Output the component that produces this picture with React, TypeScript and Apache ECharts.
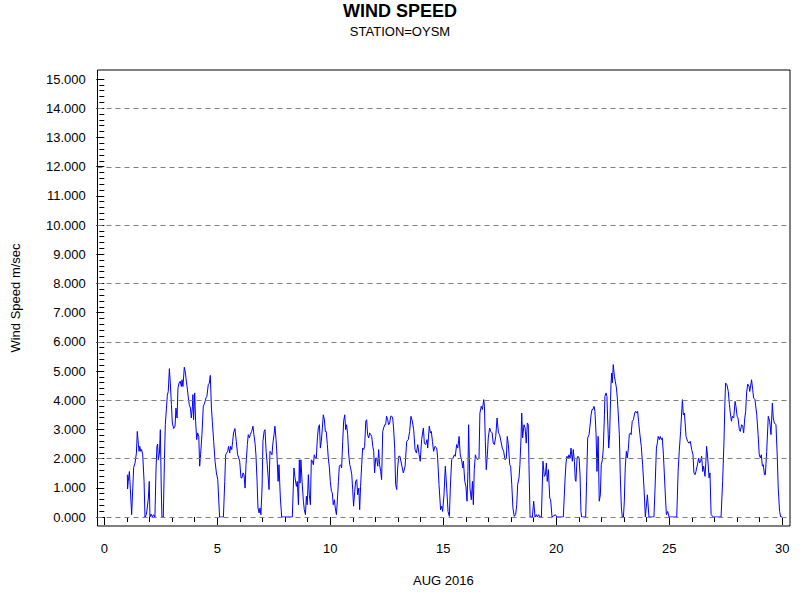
import React, { useEffect, useRef } from "react";
import * as echarts from "echarts";

// [day of August 2016, wind speed m/sec]
const aug01to04: [number, number][] = [
  [1.02,1.45],[1.03,0.96],[1.06,1.22],[1.11,1.56],[1.15,0.99],[1.21,0.08],[1.26,0.99],[1.30,1.70],[1.36,1.85],[1.42,2.19],[1.46,2.93],[1.51,2.48],[1.54,2.25],[1.57,2.42],[1.61,2.25],[1.65,2.31],[1.70,2.13],[1.76,1.22],[1.80,0],[1.86,0.08],[1.90,0.31],[1.95,0.65],[1.99,1.22],[2.02,0],[2.07,0.10],[2.13,0],[2.18,0.08],[2.24,0],[2.29,1.68],[2.33,2.42],[2.36,2.50],[2.39,1.96],[2.44,2.19],[2.48,2.99],[2.52,0.99],[2.55,0],[2.61,0],[2.66,1.91],[2.70,3.16],[2.75,3.73],[2.79,4.17],[2.83,4.30],[2.88,5.08],[2.92,4.59],[2.97,3.85],[3.01,3.22],[3.07,3.03],[3.13,3.11],[3.17,3.73],[3.22,3.39],[3.26,4.42],[3.31,4.59],[3.36,4.65],[3.41,4.47],[3.44,4.70],[3.48,4.47],[3.54,5.13],[3.59,4.93],[3.63,4.65],[3.67,4.42],[3.72,4.08],[3.76,3.85],[3.81,3.73],[3.85,3.39],[3.90,3.79],[3.92,4.19],[3.95,3.33],[4.00,4.25],[4.04,3.28],[4.09,2.65],[4.13,2.88],[4.18,2.76],[4.22,1.74],
];
const aug04to08: [number, number][] = [
  [4.26,2.13],[4.32,2.82],[4.38,3.79],[4.44,3.90],[4.50,4.08],[4.54,4.13],[4.60,4.53],[4.65,4.59],[4.69,4.85],[4.74,3.73],[4.78,3.28],[4.84,2.59],[4.90,1.91],[4.96,1.51],[5.02,1.28],[5.06,0.65],[5.10,0],[5.27,0],[5.33,1.22],[5.37,2.13],[5.41,2.19],[5.46,2.25],[5.50,2.42],[5.55,2.19],[5.59,2.42],[5.64,2.31],[5.68,2.59],[5.72,2.88],[5.78,3.03],[5.84,2.59],[5.90,2.13],[5.95,2.02],[5.99,1.91],[6.05,1.34],[6.09,1.34],[6.14,1.51],[6.18,1.45],[6.23,0.99],[6.27,1.79],[6.33,2.48],[6.37,2.82],[6.42,2.71],[6.46,2.82],[6.52,2.93],[6.58,3.11],[6.62,2.82],[6.67,2.53],[6.71,2.13],[6.76,1.22],[6.80,0.31],[6.85,0.14],[6.89,0.31],[6.93,0.08],[6.98,0.99],[7.02,2.59],[7.07,2.93],[7.11,2.99],[7.16,2.25],[7.21,1.79],[7.29,0.94],[7.33,2.25],[7.38,2.19],[7.42,2.13],[7.46,2.53],[7.51,2.82],[7.55,3.11],[7.60,2.65],[7.64,2.13],[7.69,1.22],[7.73,1.79],[7.79,0.65],[7.85,0],[8.32,0],[8.39,1.68],[8.44,1.34],[8.50,1.05],[8.54,1.22],[8.59,0.42],[8.63,1.96],
];
const aug08to13: [number, number][] = [
  [8.66,1.16],[8.70,1.96],[8.75,1.22],[8.81,0.54],[8.85,0.25],[8.90,0.08],[8.94,0.71],[8.98,0.42],[9.03,1.45],[9.07,0.76],[9.12,0.42],[9.16,1.96],[9.21,1.91],[9.25,1.79],[9.29,2.13],[9.34,2.02],[9.38,2.02],[9.43,2.71],[9.47,3.05],[9.52,3.16],[9.56,2.36],[9.60,2.59],[9.65,3.05],[9.69,3.50],[9.74,3.33],[9.78,2.93],[9.82,2.93],[9.87,2.48],[9.91,2.02],[9.96,1.68],[10.00,1.22],[10.05,0.88],[10.09,0.82],[10.13,0.42],[10.18,0.59],[10.22,0.31],[10.27,0.08],[10.31,0.54],[10.36,1.22],[10.40,1.74],[10.46,1.79],[10.50,1.68],[10.55,2.59],[10.59,3.28],[10.64,3.50],[10.68,2.99],[10.72,3.16],[10.77,2.82],[10.81,2.19],[10.86,1.79],[10.90,1.68],[10.95,1.45],[10.99,0.94],[11.03,0.37],[11.08,0.88],[11.12,1.22],[11.17,1.28],[11.21,0.76],[11.26,0.99],[11.30,0.25],[11.34,1.05],[11.39,1.79],[11.43,2.36],[11.48,2.31],[11.52,2.42],[11.57,3.28],[11.61,3.33],[11.65,2.82],[11.70,2.71],[11.74,2.88],[11.79,2.82],[11.83,2.76],[11.88,2.42],[11.92,2.25],[11.96,1.51],[12.01,2.02],[12.05,2.02],[12.10,1.74],[12.14,2.31],[12.18,1.79],[12.23,1.56],[12.27,1.28],[12.32,2.93],[12.36,3.05],[12.41,3.16],[12.45,3.16],[12.49,3.45],[12.54,3.33],[12.58,3.16],[12.63,3.22],[12.67,3.45],[12.72,3.45],[12.76,3.39],[12.80,3.05],[12.85,2.36],[12.89,1.11],[12.94,0.94],[12.98,1.68],[13.03,2.08],
];
const aug13to17: [number, number][] = [
  [13.08,2.08],[13.23,1.51],[13.31,1.74],[13.38,2.59],[13.45,2.65],[13.51,2.93],[13.57,3.45],[13.63,3.28],[13.69,2.99],[13.75,2.31],[13.81,2.19],[13.87,2.48],[13.93,2.13],[13.98,1.91],[14.04,2.65],[14.12,3.05],[14.16,2.53],[14.22,2.48],[14.28,2.65],[14.31,2.36],[14.38,3.11],[14.43,2.88],[14.47,2.93],[14.52,2.59],[14.57,2.25],[14.63,2.42],[14.71,2.36],[14.75,2.02],[14.81,1.11],[14.88,0.25],[14.93,0.37],[14.97,0.19],[15.03,0.76],[15.09,1.74],[15.15,0.99],[15.21,0.19],[15.27,0.02],[15.31,0.99],[15.37,1.96],[15.43,2.02],[15.49,2.13],[15.53,2.08],[15.59,2.48],[15.64,2.36],[15.70,2.76],[15.75,2.13],[15.81,1.96],[15.86,1.68],[15.89,1.91],[15.95,1.22],[16.00,1.05],[16.05,0.54],[16.09,1.56],[16.12,3.16],[16.18,0.99],[16.24,0.59],[16.29,1.22],[16.33,0.42],[16.37,1.62],[16.42,2.13],[16.46,2.02],[16.52,1.96],[16.58,2.02],[16.62,3.56],[16.68,3.79],[16.73,3.68],[16.79,4.02],[16.82,3.79],[16.86,2.59],[16.90,1.62],[16.95,2.13],[16.99,2.71],[17.05,3.05],[17.10,2.93],[17.16,2.88],[17.21,2.53],[17.26,2.48],[17.32,2.76],[17.38,3.39],[17.44,2.88],[17.49,2.82],
];
const aug17to21: [number, number][] = [
  [17.61,2.36],[17.67,2.25],[17.73,1.96],[17.79,2.02],[17.83,2.76],[17.88,2.48],[17.94,1.79],[17.98,1.74],[18.03,1.11],[18.08,0.31],[18.14,0.02],[18.20,0.08],[18.25,0.42],[18.29,1.11],[18.35,1.34],[18.39,1.79],[18.44,2.71],[18.47,3.56],[18.51,2.71],[18.57,3.16],[18.62,3.05],[18.67,2.53],[18.72,3.22],[18.76,3.16],[18.79,1.79],[18.84,0],[18.94,0],[19.00,0.54],[19.06,0],[19.12,0.08],[19.16,0],[19.22,0.08],[19.28,0],[19.34,0],[19.41,1.91],[19.47,1.39],[19.52,1.45],[19.56,1.85],[19.60,1.22],[19.65,1.62],[19.71,0.65],[19.75,0.59],[19.81,0],[19.96,0.08],[20.02,0],[20.31,0],[20.39,1.34],[20.43,1.85],[20.47,2.08],[20.52,2.02],[20.56,2.13],[20.61,2.02],[20.65,2.36],[20.68,2.13],[20.71,1.91],[20.75,2.31],[20.80,1.91],[20.84,1.28],[20.87,1.22],[20.92,2.02],[20.96,2.08],[21.01,2.02],[21.05,1.45],[21.09,0.19],[21.12,0],[21.30,0],[21.34,1.22],[21.39,2.71],[21.45,2.82],[21.49,3.11],[21.54,3.50],[21.58,3.68],[21.62,3.68],[21.67,3.79],[21.71,3.62],[21.76,2.82],[21.80,1.56],[21.85,2.76],[21.90,0.54],
];
const aug22to26: [number, number][] = [
  [21.95,0.76],[21.99,1.79],[22.04,1.96],[22.08,2.36],[22.13,3.50],[22.15,4.13],[22.20,4.25],[22.24,4.13],[22.27,3.39],[22.32,2.36],[22.36,2.82],[22.39,3.73],[22.42,4.53],[22.45,4.93],[22.48,4.59],[22.52,5.22],[22.57,4.82],[22.61,4.65],[22.66,4.42],[22.70,4.08],[22.74,3.56],[22.79,2.82],[22.83,1.45],[22.88,0.31],[22.92,0],[22.97,0],[23.01,0.54],[23.05,1.68],[23.10,2.25],[23.14,2.02],[23.19,2.36],[23.23,2.82],[23.28,2.88],[23.31,2.82],[23.36,3.28],[23.41,3.33],[23.47,3.56],[23.51,3.62],[23.56,3.56],[23.60,3.62],[23.64,3.28],[23.70,2.82],[23.76,2.42],[23.82,1.79],[23.88,0.99],[23.94,0],[24.03,0.76],[24.10,0],[24.32,0],[24.37,0.99],[24.43,2.36],[24.47,2.53],[24.51,2.76],[24.56,2.65],[24.60,2.76],[24.65,2.65],[24.69,2.71],[24.74,2.13],[24.81,0.99],[24.87,0.08],[24.93,0.19],[24.99,0],[25.33,0],[25.39,1.56],[25.44,2.25],[25.50,2.93],[25.58,4.02],[25.62,3.50],[25.67,3.56],[25.74,2.76],[25.81,2.59],[25.87,2.53],[25.93,2.59],[25.99,2.31],[26.05,2.13],[26.09,1.51],[26.14,1.45],[26.18,1.56],
];
const aug26to30: [number, number][] = [
  [26.26,1.85],[26.30,2.02],[26.34,1.85],[26.39,1.91],[26.43,2.08],[26.48,1.56],[26.52,1.74],[26.58,1.39],[26.62,1.91],[26.65,2.42],[26.70,2.02],[26.76,1.34],[26.80,1.51],[26.85,0.08],[26.95,0],[27.29,0],[27.36,1.22],[27.42,2.59],[27.46,3.90],[27.49,4.59],[27.55,4.53],[27.61,4.30],[27.66,3.85],[27.70,3.56],[27.75,3.28],[27.79,3.45],[27.85,3.39],[27.91,3.96],[27.95,3.79],[28.00,3.45],[28.04,3.39],[28.10,2.99],[28.14,2.93],[28.20,3.16],[28.25,3.11],[28.29,2.88],[28.34,3.39],[28.38,3.62],[28.42,4.25],[28.47,4.55],[28.53,4.47],[28.56,4.30],[28.64,4.70],[28.69,4.36],[28.73,4.08],[28.79,4.02],[28.87,3.50],[28.93,2.82],[28.98,2.13],[29.03,2.02],[29.07,2.13],[29.12,1.74],[29.16,1.79],[29.21,1.45],[29.25,1.45],[29.31,2.25],[29.38,3.45],[29.44,3.28],[29.50,2.82],[29.56,3.90],[29.60,3.39],[29.65,3.22],[29.72,3.16],[29.78,2.02],[29.82,0.99],[29.88,0.19],[29.93,0],[30.00,0],
];

const dashedLevels = [0, 2, 4, 6, 8, 10, 12, 14];

const FONT = "'Liberation Sans', Arial, Helvetica, sans-serif";

export default function App() {
  const ref = useRef<HTMLDivElement>(null);
  useEffect(() => {
    if (!ref.current) return;
    const chart = echarts.init(ref.current, null, { renderer: "svg" });
    const windData = [
      ...aug01to04, ...aug04to08, ...aug08to13, ...aug13to17,
      ...aug17to21, ...aug22to26, ...aug26to30,
    ];
    chart.setOption({
      animation: false,
      backgroundColor: "#ffffff",
      textStyle: { fontFamily: FONT },
      title: {
        left: "center",
        top: -3,
        text: "WIND SPEED",
        subtext: "STATION=OYSM",
        itemGap: 5,
        textStyle: { fontFamily: FONT, fontSize: 18, fontWeight: "bold", color: "#000" },
        subtextStyle: { fontFamily: FONT, fontSize: 13, color: "#000" },
      },
      grid: [
        { left: 104.3, right: 17.7, top: 79, bottom: 83, containLabel: false },
        {
          left: 97.5, right: 10, top: 70, bottom: 74, show: true,
          borderColor: "#000", borderWidth: 1, backgroundColor: "transparent",
        },
      ],
      xAxis: [
        {
          type: "value", gridIndex: 0, min: 0, max: 30, interval: 5, offset: 9,
          axisLine: { show: false },
          axisTick: { show: true, length: 8, lineStyle: { color: "#000" } },
          minorTick: { show: true, splitNumber: 5, length: 5, lineStyle: { color: "#000" } },
          splitLine: { show: false },
          axisLabel: { fontFamily: FONT, fontSize: 13, color: "#000", margin: 16 },
          name: "AUG 2016", nameLocation: "middle", nameGap: 48,
          nameTextStyle: { fontFamily: FONT, fontSize: 13, color: "#000" },
        },
        { type: "value", gridIndex: 1, min: 0, max: 1, show: false },
      ],
      yAxis: [
        {
          type: "value", gridIndex: 0, min: 0, max: 15, interval: 1, offset: 6.6,
          axisLine: { show: false },
          axisTick: { show: true, length: 8, lineStyle: { color: "#000" } },
          minorTick: { show: true, splitNumber: 5, length: 5, lineStyle: { color: "#000" } },
          splitLine: { show: false },
          axisLabel: {
            fontFamily: FONT, fontSize: 13, color: "#000", margin: 12,
            formatter: (v: number) => v.toFixed(3),
          },
          name: "Wind Speed m/sec", nameLocation: "middle", nameRotate: 90, nameGap: 76,
          nameTextStyle: { fontFamily: FONT, fontSize: 13, color: "#000" },
        },
        { type: "value", gridIndex: 1, min: -0.308, max: 15.317, show: false },
      ],
      series: [
        {
          type: "line", xAxisIndex: 1, yAxisIndex: 1, data: [], z: 1,
          markLine: {
            silent: true, symbol: "none", label: { show: false },
            lineStyle: { color: "#808080", type: [5, 4], width: 1 },
            data: dashedLevels.map((v) => ({ yAxis: v })),
          },
        },
        {
          type: "line", xAxisIndex: 0, yAxisIndex: 0, data: windData, z: 3,
          showSymbol: false, symbol: "none",
          lineStyle: { color: "#0000ff", width: 1 },
        },
      ],
    });
    return () => chart.dispose();
  }, []);
  return (
    <div
      ref={ref}
      style={{ position: "fixed", left: 0, top: 0, width: 800, height: 600 }}
    />
  );
}
